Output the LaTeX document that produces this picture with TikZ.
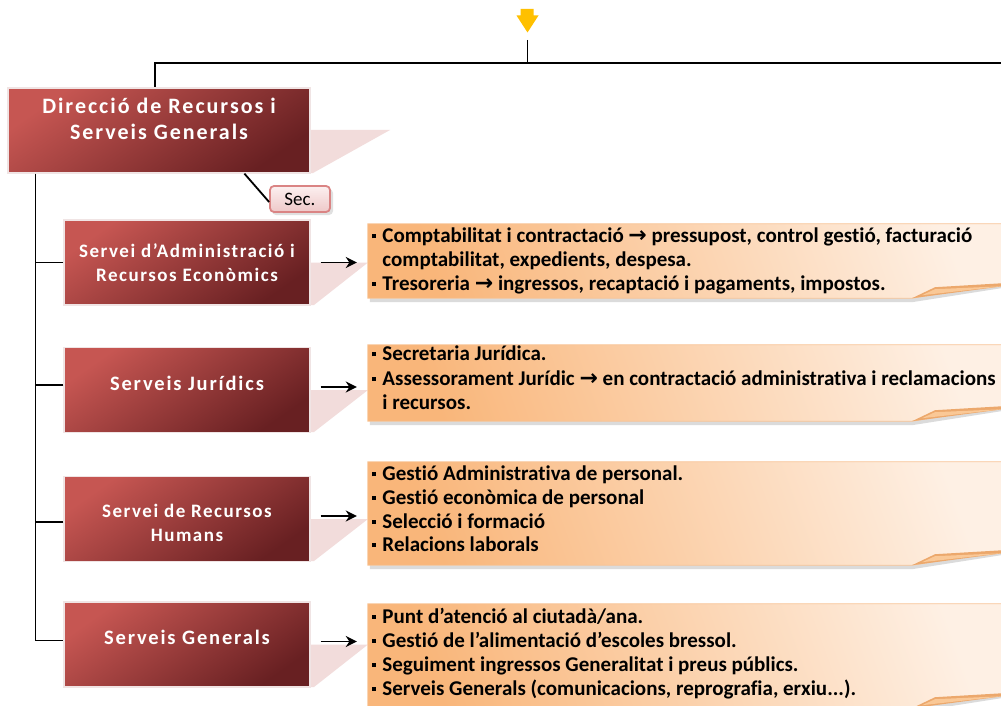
\documentclass[tikz,border=0pt]{standalone}
\usepackage{fontspec}
\setmainfont{Carlito}[Ligatures=NoCommon]
\newfontfamily\dejavu{DejaVu Sans}
\usetikzlibrary{arrows.meta}
\definecolor{redL}{RGB}{198,86,82}
\definecolor{redD}{RGB}{104,32,34}
\definecolor{redEdge}{RGB}{240,228,228}
\definecolor{pinkS}{RGB}{242,220,219}
\definecolor{orD}{RGB}{249,182,122}
\definecolor{orL}{RGB}{254,240,228}
\definecolor{orB}{RGB}{248,196,150}
\definecolor{orFold}{RGB}{236,168,108}
\definecolor{orFoldL}{RGB}{250,200,150}
\definecolor{yel}{RGB}{255,192,0}
\definecolor{secTop}{RGB}{252,240,240}
\definecolor{secBot}{RGB}{238,200,200}
\definecolor{secEdge}{RGB}{218,132,132}
\newcommand\bul{\rule[0.22em]{0.19em}{0.19em}\hspace{0.3em}}
\newcommand\ar{{\dejavu\bfseries\fontsize{22}{22}\selectfont →}}
\newcommand\redfont{\fontsize{20.5}{24}\selectfont\bfseries\addfontfeature{LetterSpace=9}}
\newcommand\redfontsm{\fontsize{19}{24}\selectfont\bfseries\addfontfeature{LetterSpace=8}}
\tikzset{
  redbox/.style={draw=redEdge, line width=1.2pt, top color=redL, bottom color=redD, shading angle=35, minimum width=246pt, minimum height=85pt, inner sep=0pt},
  redtext/.style={text=white, font=\redfont, align=center, inner sep=0pt},
  pinkshape/.style={fill=pinkS, draw=none},
  obox/.style={minimum width=650pt, inner sep=0pt, draw=none},
  oshade/.style={top color=orL, bottom color=orD, shading angle=-70, draw=orB, line width=0.8pt},
  oshadow/.style={fill=black!14, draw=none},
  otext/.style={font=\fontsize{21}{23.6}\selectfont\bfseries, align=left, inner sep=0pt, anchor=north west},
  conn/.style={line width=1.8pt, -{Stealth[length=11pt,width=11pt]}, shorten <=10pt, shorten >=11pt},
  tree/.style={line width=1.8pt}
}
% orange box with lifted bottom-right corner; bottom edge breaks at x=912
\newcommand\orangebox[1]{%
  \fill[oshadow] ([xshift=2pt,yshift=-4pt]#1.north west) -- ([yshift=-4pt]#1.north east) -- ([yshift=10pt]#1.south east) -- ([yshift=10pt]1001,0 |- #1.south) -- ([yshift=-4pt]912,0 |- #1.south) -- ([xshift=2pt,yshift=-4pt]#1.south west) -- cycle;
  \shade[oshade] (#1.north west) -- (#1.north east) -- ([yshift=14pt]#1.south east)
     -- ([yshift=14pt]1001,0 |- #1.south) -- (912,0 |- #1.south) -- (#1.south west) -- cycle;
  \fill[orFold] (912,0 |- #1.south) -- ([yshift=11pt]935,0 |- #1.south) -- ([yshift=15pt]1003,0 |- #1.south) -- ([yshift=12pt]1003,0 |- #1.south) -- cycle;
  \fill[orFoldL] ([yshift=3pt]922,0 |- #1.south) -- ([yshift=9pt]935,0 |- #1.south) -- ([yshift=12pt]1003,0 |- #1.south) -- cycle;
}
\begin{document}
\begin{tikzpicture}[x=1pt,y=-1pt]
\useasboundingbox (0,0) rectangle (1001,706);
\fill[white] (0,0) rectangle (1001,706);

% yellow input arrow
\fill[yel] (520.5,9) -- (533.5,9) -- (533.5,15.5) -- (538.5,15.5) -- (527.5,32.5) -- (516.5,15.5) -- (520.5,15.5) -- cycle;
\coordinate (in) at (527.5,40);
\coordinate (rend) at (1003,63);

% pink shadow shapes
\fill[pinkshape] (310,130) -- (390,130) -- (313,173) -- (310,173) -- cycle;
\fill[pinkshape] (310,262.5) -- (368,262.5) -- (314,305) -- (310,305) -- cycle;
\fill[pinkshape] (310,390) -- (368,390) -- (314,432) -- (310,432) -- cycle;
\fill[pinkshape] (310,519) -- (368,519) -- (314,561) -- (310,561) -- cycle;
\fill[pinkshape] (310,644.5) -- (368,644.5) -- (314,687) -- (310,687) -- cycle;

% top box
\node[redbox, minimum width=302pt] (top) at (159,130.5) {};
\node[redtext, font=\fontsize{22}{26}\selectfont\bfseries\addfontfeature{LetterSpace=9}] (topt) at (159,119) {Direcció de Recursos i\\Serveis Generals};

% sec box
\fill[black!12, rounded corners=4pt] (272,189) rectangle (333,215);
\node[draw=secEdge, line width=1.8pt, rounded corners=4pt, top color=secTop, bottom color=secBot, minimum width=60pt, minimum height=26pt, inner sep=0pt, font=\fontsize{19}{19}\selectfont] (sec) at (300,199) {Sec.};

% second level boxes
\node[redbox] (b1) at (187,262.5) {};
\node[redtext, font=\redfontsm] (b1t) at (187,262.5) {Servei d’Administració i\\Recursos Econòmics};
\node[redbox] (b2) at (187,390) {};
\node[redtext] (b2t) at (187,383) {Serveis Jurídics};
\node[redbox] (b3) at (187,519) {};
\node[redtext, font=\redfontsm] (b3t) at (187,523) {Servei de Recursos\\Humans};
\node[redbox] (b4) at (187,644.5) {};
\node[redtext] (b4t) at (187,637.5) {Serveis Generals};

% orange boxes
\node[obox, minimum height=74pt] (o1) at (693,261) {};
\node[obox, minimum height=76pt] (o2) at (693,383) {};
\node[obox, minimum height=103pt] (o3) at (693,513.5) {};
\node[obox, minimum height=104pt] (o4) at (693,656) {};
\orangebox{o1}
\orangebox{o2}
\orangebox{o3}
\orangebox{o4}

\node[otext] (o1t) at (372,228) {\bul Comptabilitat i contractació \ar{} pressupost, control gestió, facturació\\
\phantom{\bul}comptabilitat, expedients, despesa.\\
\bul Tresoreria \ar{} ingressos, recaptació i pagaments, impostos.};
\node[otext, font=\fontsize{21}{24.5}\selectfont\bfseries] (o2t) at (372,346) {\bul Secretaria Jurídica.\\
\bul Assessorament Jurídic \ar{} en contractació administrativa i reclamacions\\
\phantom{\bul}i recursos.};
\node[otext] (o3t) at (372,466) {\bul Gestió Administrativa de personal.\\
\bul Gestió econòmica de personal\\
\bul Selecció i formació\\
\bul Relacions laborals};
\node[otext, font=\fontsize{21}{24}\selectfont\bfseries] (o4t) at (372,608) {\bul Punt d’atenció al ciutadà/ana.\\
\bul Gestió de l’alimentació d’escoles bressol.\\
\bul Seguiment ingressos Generalitat i preus públics.\\
\bul Serveis Generals (comunicacions, reprografia, erxiu...).};

% connectors
\draw[tree] (in) -- (in |- rend);
\draw[tree] (rend) -| ([xshift=-4pt]top.north);
\coordinate (trunk) at ([xshift=28pt]top.south west);
\draw[tree] (trunk) |- ([yshift=4pt]b4.west);
\draw[tree] (b1.west) -- (b1.west -| trunk);
\draw[tree] ([yshift=5pt]b2.west) -- ([yshift=5pt]b2.west -| trunk);
\draw[tree] ([yshift=-3pt]b3.west) -- ([yshift=-3pt]b3.west -| trunk);
\draw[tree] ([xshift=237pt]top.south west) -- ([yshift=-3pt]sec.west);
\draw[conn] (b1.east) -- (b1.east -| o1.west);
\draw[conn] ([yshift=3pt]b2.east) -- ([yshift=3pt]b2.east -| o2.west);
\draw[conn] ([yshift=3pt]b3.east) -- ([yshift=3pt]b3.east -| o3.west);
\draw[conn] ([yshift=3pt]b4.east) -- ([yshift=3pt]b4.east -| o4.west);
\end{tikzpicture}
\end{document}
